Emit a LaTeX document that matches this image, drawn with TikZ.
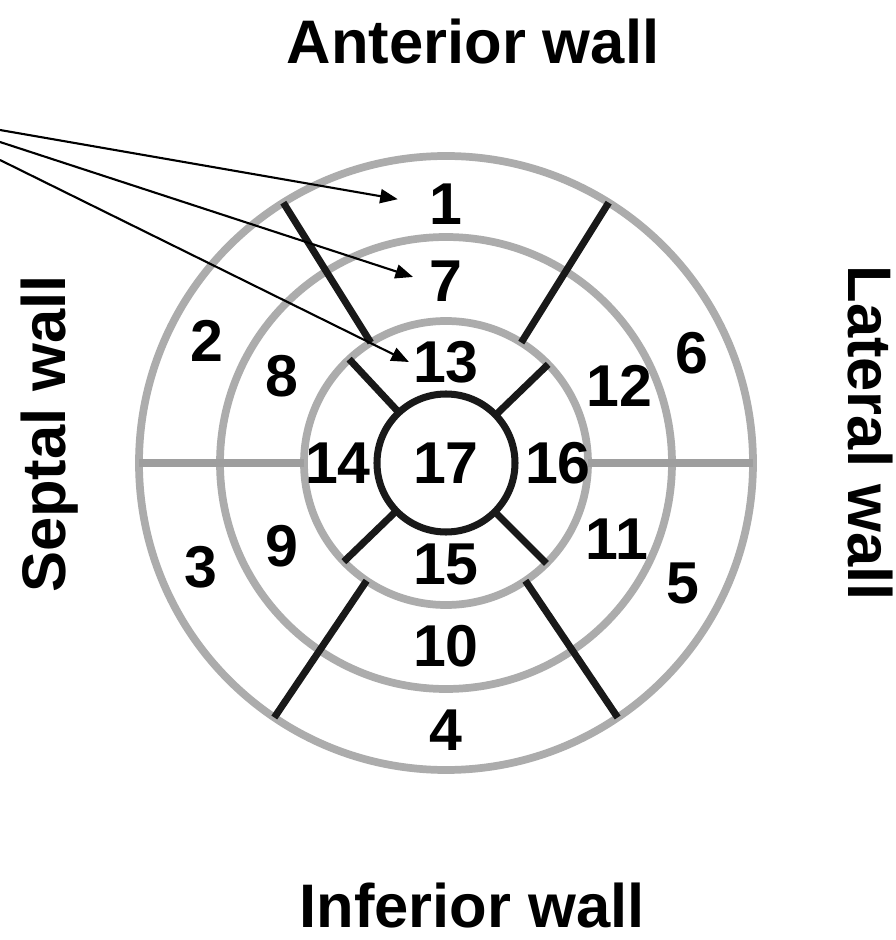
\documentclass[tikz,border=0pt]{standalone}
\usepackage{fontspec}
\setmainfont{Liberation Sans}
\usetikzlibrary{arrows.meta}
\definecolor{ringgray}{RGB}{172,172,172}
\definecolor{splitgray}{RGB}{158,158,158}
\definecolor{lineblack}{RGB}{25,25,25}
\tikzset{
  ring/.style={draw=ringgray, line width=2.2pt},
  split/.style={draw=splitgray, line width=2.4pt},
  divider/.style={draw=lineblack, line width=2pt},
  seglabel/.style={font=\fontsize{16.8}{19}\selectfont\bfseries, inner sep=1pt},
  walllabel/.style={font=\fontsize{17.5}{21}\selectfont\bfseries, inner sep=0pt},
  pointer/.style={-{Triangle[length=5pt,width=4pt]}, line width=0.6pt},
}

\begin{document}
\begin{tikzpicture}
\path[fill=white, use as bounding box] (0,0) rectangle (8.96,9.40);
% free ends of the pointers, off the left edge
\coordinate (src1) at (0,8.10);
\coordinate (src7) at (0,7.98);
\coordinate (src13) at (0,7.80);
\begin{scope}[shift={(4.46,4.77)}]
% rings
\foreach \r in {1.42,2.26,3.07} {
  \draw[ring] (0,0) circle (\r);
}
% septal / lateral split
\draw[split] (180:1.42) -- (180:3.07);
\draw[split] (0:1.42) -- (0:3.07);
% basal and mid dividers
\foreach \a in {58,122,236,304} {
  \draw[divider] (\a:1.42) -- (\a:3.07);
}
% apical dividers
\foreach \a in {44,133,224,315} {
  \draw[divider] (\a:0.69) -- (\a:1.42);
}
\draw[divider] (0,0) circle (0.69);
% segment numbers
\foreach \n/\a/\r in {1/90/2.59, 2/153/2.68, 3/203/2.66, 4/270/2.67, 5/333/2.66, 6/24/2.69,
                      7/90/1.82, 8/152/1.86, 9/207/1.84, 10/270/1.83, 11/336/1.87, 12/24/1.90,
                      13/90/1.01, 14/180/1.08, 15/270/1.01, 16/0/1.12} {
  \node[seglabel] (seg\n) at (\a:\r) {\n};
}
\node[seglabel] (seg17) at (0,0) {17};
\end{scope}
% pointers
\foreach \n/\s in {1/0.28cm, 7/0.13cm, 13/0cm} {
  \draw[pointer, shorten >=\s] (src\n) -- (seg\n.west);
}
% walls
\node[walllabel] (anterior) at (4.73,8.98) {Anterior wall};
\node[walllabel] (inferior) at (4.72,0.34) {Inferior wall};
\node[walllabel, rotate=90] (septal) at (0.50,5.06) {Septal wall};
\node[walllabel, rotate=-90] (lateral) at (8.70,5.07) {Lateral wall};
\end{tikzpicture}
\end{document}
